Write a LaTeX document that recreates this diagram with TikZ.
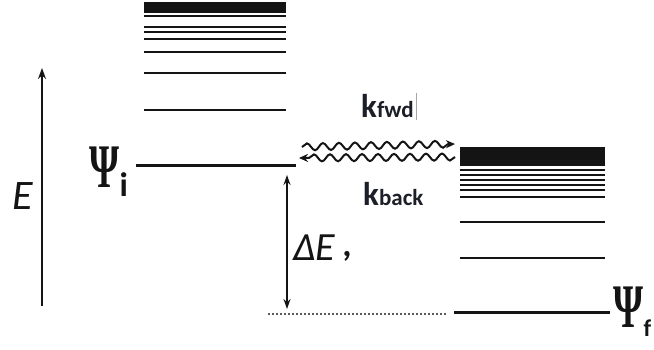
\documentclass[tikz,border=0pt]{standalone}
\usepackage{graphicx}
\usepackage{fontspec}
\setsansfont{Carlito}
\newfontfamily\psifont{Liberation Serif}
\usetikzlibrary{decorations.pathmorphing,arrows.meta}
\definecolor{ink}{RGB}{20,20,20}
\definecolor{labelink}{RGB}{28,30,40}
% narrow bold Psi followed by a lowered sans subscript
\newcommand{\statelabel}[2]{{\psifont\bfseries\fontsize{62}{62}\selectfont\scalebox{0.62}[1]{Ψ}}\kern0.5pt\raisebox{-9pt}{\sffamily\bfseries\fontsize{#2}{#2}\selectfont #1}}
\begin{document}
\begin{tikzpicture}[x=1pt,y=-1pt,
  lvl/.style={draw=ink,line width=2pt},
  ground/.style={draw=ink,line width=3pt},
  axisarrow/.style={draw=ink,line width=1.6pt,-{Stealth[length=11pt,width=8pt]}},
  gaparrow/.style={draw=ink,line width=1.4pt,{Stealth[length=10pt,width=7pt]}-{Stealth[length=10pt,width=7pt]}},
  wave/.style={draw=ink,line width=2pt,decorate,
    decoration={snake,amplitude=3.5pt,segment length=16pt,post length=7pt},
    -{Stealth[length=9pt,width=8pt]}},
  rate/.style={text=labelink,font=\sffamily\bfseries,inner sep=0pt},
  sym/.style={text=ink,inner sep=0pt}]
\useasboundingbox (0,0) rectangle (654,349);

% energy axis
\coordinate (ebot) at (42,306);
\coordinate (etop) at (42,68);
\draw[axisarrow] (ebot) -- (etop);
\node[sym,font=\sffamily\itshape\fontsize{42}{42}\selectfont] (elabel) at (23,196) {E};

% initial state manifold
\fill[ink] (144,2) rectangle (286,13);
\foreach \y in {16,27,32,39,52,73,110}
  \draw[lvl] (144,\y) -- (286,\y);
\coordinate (iL) at (136,165);
\coordinate (iR) at (296,165);
\draw[ground] (iL) -- (iR);
\node[sym,anchor=base west] (psii) at (89,187) {\statelabel{i}{34}};

% final state manifold
\fill[ink] (460,147) rectangle (605,166);
\foreach \y in {170,175,180,185,190,197,222,258}
  \draw[lvl] (460,\y) -- (605,\y);
\coordinate (fL) at (454,312);
\coordinate (fR) at (610,312);
\draw[ground] (fL) -- (fR);
\node[sym,anchor=base west] (psif) at (613,327) {\statelabel{f}{24}};

% level of the initial state carried over
\coordinate (dotL) at (268,314);
\coordinate (dotR) at (447,314);
\draw[ink!70,line width=1.4pt,dash pattern=on 1.5pt off 2.5pt] (dotL) -- (dotR);

% energy gap
\coordinate (gtop) at (287,175);
\coordinate (gbot) at (287,309);
\draw[gaparrow] (gtop) -- (gbot);
\node[sym,font=\sffamily\itshape\fontsize{40}{40}\selectfont,anchor=west] (de) at (293,248) {ΔE};
\node[sym,font=\sffamily\bfseries\fontsize{36}{36}\selectfont] (comma) at (347,256) {,};

% forward and backward transfer
\coordinate (wfs) at (302,147);
\coordinate (wfe) at (455,144);
\coordinate (wbs) at (455,157);
\coordinate (wbe) at (299,158);
\draw[wave] (wfs) -- (wfe);
\draw[wave] (wbs) -- (wbe);

\node[rate,anchor=base west] (kfwd) at (361,117)
  {{\fontsize{33}{33}\selectfont k}{\fontsize{23}{23}\selectfont fwd}};
\draw[black!35,line width=0.6pt] ([xshift=2pt,yshift=-3pt]kfwd.south east) -- ([xshift=2pt,yshift=1pt]kfwd.north east);
\node[rate,anchor=base west] (kback) at (363,205)
  {{\fontsize{33}{33}\selectfont k}{\fontsize{23}{23}\selectfont back}};
\end{tikzpicture}
\end{document}
